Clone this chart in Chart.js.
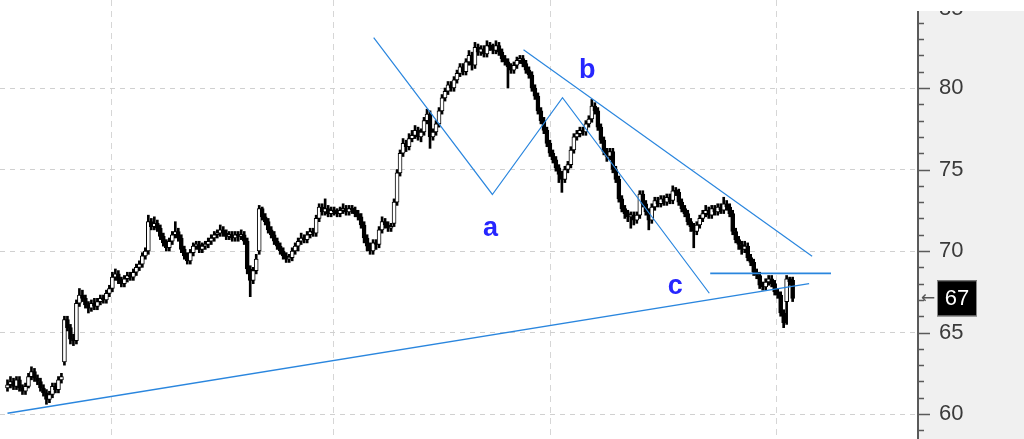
<!DOCTYPE html>
<html>
<head>
<meta charset="utf-8">
<script src="https://cdn.jsdelivr.net/npm/chart.js@4.4.0/dist/chart.umd.min.js"></script>
<style>
  html, body { margin: 0; padding: 0; background: #fff; }
  #wrap { width: 1024px; height: 439px; }
</style>
</head>
<body>
<div id="wrap"><canvas id="chart"></canvas></div>
<script>
// candles (index = bar number)
const opens = [
  61.6,61.8,62.0,61.7,62.1,61.6,61.4,61.7,62.3,62.6,
  62.2,62.0,61.6,61.3,60.9,61.2,61.7,61.5,62.1,63.2,
  65.8,65.3,64.6,64.5,66.8,67.3,67.1,66.7,66.5,66.8,
  66.6,66.9,67.1,67.0,67.4,67.7,68.4,68.6,68.2,68.0,
  68.3,68.5,68.4,68.7,69.0,69.2,69.7,70.0,71.8,71.5,
  71.7,71.4,70.9,70.5,70.2,70.6,71.0,71.2,70.8,70.1,
  69.7,69.4,69.9,70.3,70.4,70.1,70.3,70.4,70.6,70.8,
  71.0,71.1,71.3,71.1,70.9,71.0,70.8,71.0,70.9,71.0,
  70.6,68.9,68.2,68.8,70.0,72.6,72.1,71.8,71.3,71.0,
  70.6,70.3,70.0,69.7,69.5,69.6,70.0,70.3,70.6,70.8,
  70.7,71.0,71.2,71.1,72.0,72.7,72.4,72.6,72.3,72.5,
  72.4,72.3,72.5,72.6,72.4,72.6,72.5,72.3,72.1,71.6,
  70.8,70.3,70.0,70.5,70.4,71.3,71.8,71.6,71.4,71.7,
  73.0,74.8,76.0,76.6,76.4,76.9,77.1,77.4,77.0,77.3,
  78.0,78.4,77.0,77.3,77.8,78.6,79.4,79.8,80.2,80.0,
  80.5,80.9,81.3,81.0,81.6,82.0,81.4,82.5,82.2,82.4,
  82.1,82.6,82.5,82.3,82.6,82.2,81.8,81.6,81.3,81.1,
  81.4,81.7,81.8,81.5,81.1,80.8,80.0,79.5,78.6,78.0,
  77.4,76.6,76.0,75.6,75.1,74.7,74.4,75.0,75.3,76.2,
  77.0,77.2,77.4,77.3,77.8,78.1,78.9,78.6,77.6,76.8,
  76.1,75.8,76.1,75.0,74.4,73.2,72.6,72.3,72.1,72.2,
  71.9,72.2,73.5,72.9,72.4,71.9,72.7,73.1,72.9,73.2,
  73.0,73.3,73.1,73.7,73.6,73.0,72.6,72.3,71.8,71.5,
  71.2,71.6,72.0,72.3,72.5,72.2,72.6,72.4,72.7,72.5,
  72.9,72.7,72.3,71.2,70.7,70.4,70.1,70.3,69.6,69.3,
  68.7,68.5,67.9,67.8,68.1,68.3,68.0,67.5,67.3,66.2,
  66.9,68.3,68.2
];
const highs = [
  62.1,62.3,62.2,62.3,62.3,61.8,61.9,62.5,62.9,62.8,
  62.4,62.2,61.8,61.5,61.4,61.9,61.9,62.3,62.5,66.0,
  66.0,65.5,64.9,67.0,67.7,67.6,67.3,66.9,67.0,67.1,
  67.1,67.3,67.3,67.6,67.9,68.7,68.9,68.8,68.4,68.5,
  68.7,68.7,68.9,69.2,69.4,69.9,70.2,72.2,72.0,72.1,
  71.9,71.6,71.1,70.7,70.8,71.2,71.8,71.4,71.0,70.3,
  69.9,70.1,70.5,70.6,70.6,70.5,70.6,70.8,71.0,71.2,
  71.3,71.6,71.5,71.3,71.2,71.2,71.2,71.2,71.3,71.2,
  70.8,69.1,69.0,69.8,72.8,72.7,72.3,72.0,71.5,71.2,
  70.8,70.5,70.2,69.9,69.8,70.2,70.5,70.8,71.1,71.0,
  71.2,71.4,71.4,72.2,72.9,72.9,73.2,72.8,72.7,72.7,
  72.6,72.7,72.9,72.8,72.8,72.8,72.7,72.5,72.3,71.8,
  71.0,70.5,70.7,70.7,71.5,72.1,72.0,71.8,71.7,73.2,
  75.0,76.2,76.9,76.8,77.2,77.4,77.7,77.6,77.5,78.2,
  78.7,78.6,77.5,78.0,78.8,79.6,80.0,80.4,80.4,80.7,
  81.1,81.5,81.5,81.8,82.3,82.2,82.8,82.7,82.6,82.6,
  82.9,82.8,82.7,82.9,82.8,82.4,82.0,81.8,81.5,81.6,
  81.9,82.0,82.0,81.7,81.3,81.0,80.2,79.7,78.8,78.2,
  77.6,76.8,76.2,75.8,75.3,74.9,75.2,75.5,76.4,77.2,
  77.4,77.6,77.6,78.0,78.3,79.3,79.1,78.8,77.8,77.0,
  76.3,76.3,76.3,75.2,74.6,73.4,72.8,72.5,72.4,72.4,
  72.4,73.7,73.7,73.1,72.6,72.9,73.3,73.3,73.4,73.4,
  73.5,73.5,74.0,73.9,73.8,73.2,72.8,72.5,72.0,71.7,
  71.8,72.2,72.5,72.8,72.7,72.8,72.8,72.9,72.9,73.3,
  73.1,72.9,72.5,71.4,70.9,70.6,70.6,70.5,69.8,69.5,
  68.9,68.7,68.1,68.3,68.5,68.5,68.2,67.7,67.5,66.4,
  68.5,68.4,68.4
];
const lows = [
  61.4,61.6,61.5,61.5,61.4,61.2,61.2,61.6,62.1,62.0,
  61.8,61.4,61.1,60.6,60.7,61.0,61.3,61.3,61.9,63.0,
  65.1,64.3,64.2,64.3,66.6,66.9,66.5,66.2,66.3,66.4,
  66.4,66.7,66.8,66.8,67.2,67.5,68.2,68.0,67.8,67.8,
  68.1,68.2,68.2,68.5,68.8,69.0,69.5,69.8,71.3,71.3,
  71.2,70.7,70.3,70.0,70.0,70.4,70.8,70.6,69.9,69.5,
  69.2,69.2,69.7,70.1,69.9,69.9,70.1,70.2,70.4,70.6,
  70.8,70.9,70.9,70.7,70.7,70.6,70.6,70.6,70.7,70.4,
  68.6,67.2,68.0,68.6,69.8,71.9,71.6,71.1,70.8,70.4,
  70.1,69.8,69.5,69.3,69.3,69.4,69.8,70.0,70.4,70.5,
  70.5,70.8,70.9,70.9,71.8,72.2,72.2,72.1,72.1,72.2,
  72.1,72.1,72.3,72.2,72.2,72.3,72.1,71.9,71.4,70.5,
  70.0,69.8,69.8,70.1,70.2,71.1,71.4,71.2,71.2,71.5,
  72.8,74.6,75.8,76.1,76.2,76.7,76.9,76.8,76.7,77.1,
  77.8,76.3,76.8,77.1,77.6,78.4,79.2,79.6,79.8,79.8,
  80.3,80.7,80.8,80.8,81.4,81.1,81.2,82.0,82.0,81.9,
  81.9,82.3,82.1,82.1,82.0,81.6,81.4,80.0,80.9,80.9,
  81.2,81.5,81.3,80.9,80.6,79.8,79.3,78.4,77.8,77.2,
  76.4,75.8,75.4,74.9,74.2,73.6,74.2,74.8,75.1,76.0,
  76.8,77.0,77.1,77.1,77.6,77.9,78.4,77.4,76.6,75.9,
  75.5,75.6,74.8,74.2,73.0,72.4,72.0,71.8,71.4,71.6,
  71.7,72.0,72.7,72.2,71.3,71.7,72.5,72.7,72.7,72.8,
  72.8,72.9,72.9,73.4,72.8,72.4,72.1,71.6,71.2,70.2,
  71.0,71.4,71.8,72.1,72.0,72.0,72.2,72.2,72.3,72.3,
  72.5,72.1,71.0,70.5,70.1,69.8,69.9,69.4,69.1,68.5,
  68.3,67.7,67.6,67.6,67.9,67.8,67.3,67.1,66.0,65.3,
  65.5,67.9,66.9
];
const closes = [
  61.8,62.0,61.7,62.1,61.6,61.4,61.7,62.3,62.6,62.2,
  62.0,61.6,61.3,60.9,61.2,61.7,61.5,62.1,62.3,65.8,
  65.3,64.6,64.5,66.8,67.3,67.1,66.7,66.5,66.8,66.6,
  66.9,67.1,67.0,67.4,67.7,68.4,68.6,68.2,68.0,68.3,
  68.5,68.4,68.7,69.0,69.2,69.7,70.0,71.8,71.5,71.7,
  71.4,70.9,70.5,70.2,70.6,71.0,71.2,70.8,70.1,69.7,
  69.4,69.9,70.3,70.4,70.1,70.3,70.4,70.6,70.8,71.0,
  71.1,71.3,71.1,70.9,71.0,70.8,71.0,70.9,71.0,70.6,
  68.9,68.2,68.8,69.5,72.6,72.1,71.8,71.3,71.0,70.6,
  70.3,70.0,69.7,69.5,69.6,70.0,70.3,70.6,70.8,70.7,
  71.0,71.2,71.1,72.0,72.7,72.4,72.6,72.3,72.5,72.4,
  72.3,72.5,72.6,72.4,72.6,72.5,72.3,72.1,71.6,70.8,
  70.3,70.0,70.5,70.4,71.3,71.8,71.6,71.4,71.5,73.0,
  74.8,76.0,76.6,76.4,76.9,77.1,77.4,77.0,77.3,78.0,
  78.4,77.0,77.3,77.8,78.6,79.4,79.8,80.2,80.0,80.5,
  80.9,81.3,81.0,81.6,82.0,81.4,82.5,82.2,82.4,82.1,
  82.6,82.5,82.3,82.6,82.2,81.8,81.6,81.3,81.1,81.4,
  81.7,81.8,81.5,81.1,80.8,80.0,79.5,78.6,78.0,77.4,
  76.6,76.0,75.6,75.1,74.7,74.4,75.0,75.3,76.2,77.0,
  77.2,77.4,77.3,77.8,78.1,78.9,78.6,77.6,76.8,76.1,
  75.8,76.1,75.0,74.4,73.2,72.6,72.3,72.1,72.2,71.9,
  72.2,73.5,72.9,72.4,71.9,72.7,73.1,72.9,73.2,73.0,
  73.3,73.1,73.7,73.6,73.0,72.6,72.3,71.8,71.5,71.2,
  71.6,72.0,72.3,72.5,72.2,72.6,72.4,72.7,72.5,72.9,
  72.7,72.3,71.2,70.7,70.4,70.1,70.3,69.6,69.3,68.7,
  68.5,67.9,67.8,68.1,68.3,68.0,67.5,67.3,66.2,65.6,
  68.3,68.1,67.1
];

// drawn lines (bar index, price)
const supportX = [0, 267.5];
const supportY = [60.05, 68.0];
const zigzagX = [122.2, 161.8, 185.2, 234.2];
const zigzagY = [83.09, 73.47, 79.41, 67.41];
const upperX = [172.2, 268.5];
const upperY = [82.35, 69.68];
const flatX = [234.5, 274.8];
const flatY = [68.63, 68.63];

// wave labels
const waveText = ['a', 'b', 'c'];
const waveX = [161.2, 193.5, 222.8];
const waveY = [71.4, 81.1, 67.8];

// vertical grid (bar index) and price range
const gridX = [34.8, 108.8, 181.2, 256.5];
const yMin = 58.47;
const yMax = 85.4;

const BLUE = '#2a86de';

const wicks = lows.map((l, i) => ({ x: i, y: [l, highs[i]] }));
const bodies = opens.map((o, i) => ({ x: i, y: [Math.min(o, closes[i]), Math.max(o, closes[i])] }));
const pts = (xs, ys) => xs.map((x, i) => ({ x: x, y: ys[i] }));

const axisPanel = {
  id: 'axisPanel',
  beforeDraw(chart) {
    const { ctx, chartArea } = chart;
    ctx.save();
    ctx.fillStyle = '#f0f0f0';
    ctx.fillRect(chartArea.right, 12, chart.width - chartArea.right, chart.height - 12);
    ctx.restore();
  },
  afterDraw(chart) {
    const { ctx, chartArea } = chart;
    const ys = chart.scales.y;
    const xs = chart.scales.x;
    const ax = chartArea.right;
    ctx.save();
    // header band above the price panel, with the clipped 85 label
    ctx.fillStyle = '#f0f0f0';
    ctx.fillRect(ax, 0, chart.width - ax, 12);
    ctx.fillStyle = '#3a3a3a';
    ctx.font = '22px "Liberation Sans", Arial, sans-serif';
    ctx.textAlign = 'left';
    ctx.textBaseline = 'middle';
    ctx.fillText('85', ax + 22, ys.getPixelForValue(85) + 2);
    ctx.fillStyle = '#fff';
    ctx.fillRect(ax, 0, chart.width - ax, 11);

    // axis line + ticks
    ctx.strokeStyle = '#5a5a5a';
    ctx.lineWidth = 2;
    ctx.beginPath();
    ctx.moveTo(ax + 1, 11);
    ctx.lineTo(ax + 1, chart.height);
    ctx.stroke();
    ctx.lineWidth = 1.5;
    for (let v = Math.ceil(ys.min); v <= ys.max; v++) {
      const py = Math.round(ys.getPixelForValue(v)) + 0.5;
      if (py < 13) continue;
      const len = v % 5 === 0 ? 13 : 7;
      ctx.beginPath();
      ctx.moveTo(ax, py);
      ctx.lineTo(ax + len, py);
      ctx.stroke();
    }

    // last price tag
    const last = closes[closes.length - 1];
    const py = ys.getPixelForValue(last);
    ctx.fillStyle = '#000';
    ctx.fillRect(ax + 20, py - 18, 40, 36);
    ctx.strokeStyle = '#888';
    ctx.lineWidth = 1;
    ctx.strokeRect(ax + 20.5, py - 17.5, 39, 35);
    ctx.fillStyle = '#fff';
    ctx.font = '22px "Liberation Sans", Arial, sans-serif';
    ctx.textAlign = 'center';
    ctx.fillText(String(Math.round(last)), ax + 40, py + 1);
    ctx.fillStyle = '#555';
    ctx.font = '17px "DejaVu Sans", sans-serif';
    ctx.fillText('\u2190', ax + 11, py);

    // wave labels
    ctx.fillStyle = '#2626ff';
    ctx.font = 'bold 27px "Liberation Sans", Arial, sans-serif';
    waveText.forEach((t, i) => {
      ctx.fillText(t, xs.getPixelForValue(waveX[i]), ys.getPixelForValue(waveY[i]));
    });
    ctx.restore();
  }
};

new Chart(document.getElementById('chart'), {
  data: {
    datasets: [
      { type: 'line', data: pts(supportX, supportY), borderColor: BLUE, borderWidth: 1.4, pointRadius: 0, order: 0 },
      { type: 'line', data: pts(zigzagX, zigzagY), borderColor: BLUE, borderWidth: 1.2, pointRadius: 0, order: 0 },
      { type: 'line', data: pts(upperX, upperY), borderColor: BLUE, borderWidth: 1.2, pointRadius: 0, order: 0 },
      { type: 'line', data: pts(flatX, flatY), borderColor: BLUE, borderWidth: 1.8, pointRadius: 0, order: 0 },
      {
        type: 'bar', data: bodies, order: 1, grouped: false,
        barThickness: 4, minBarLength: 2, borderWidth: 1, borderSkipped: false,
        borderColor: '#000',
        backgroundColor: c => (closes[c.dataIndex] >= opens[c.dataIndex] ? '#fff' : '#000')
      },
      { type: 'bar', data: wicks, order: 2, grouped: false, barThickness: 2, backgroundColor: '#000' }
    ]
  },
  options: {
    responsive: true,
    maintainAspectRatio: false,
    animation: false,
    layout: { padding: 0 },
    plugins: { legend: { display: false }, tooltip: { enabled: false } },
    scales: {
      x: {
        type: 'linear',
        min: -2.5,
        max: 303.5,
        offset: false,
        afterBuildTicks: s => { s.ticks = gridX.map(v => ({ value: v })); },
        afterFit: s => { s.height = 0; s.paddingLeft = 0; s.paddingRight = 0; },
        ticks: { display: false },
        grid: { color: '#d6d6d6', drawTicks: false, offset: false },
        border: { display: false, dash: [6, 5] }
      },
      y: {
        position: 'right',
        min: yMin,
        max: yMax,
        afterFit: s => { s.width = 107; s.paddingTop = 0; s.paddingBottom = 0; },
        ticks: {
          stepSize: 1,
          autoSkip: false,
          padding: 22,
          color: '#3a3a3a',
          font: { family: '"Liberation Sans", Arial, sans-serif', size: 22 },
          callback: v => (v % 5 === 0 && v < 85 ? String(v) : '')
        },
        grid: {
          drawTicks: false,
          color: c => (c.tick && c.tick.value % 5 === 0 && c.tick.value < 85 ? '#d0d0d0' : 'rgba(0,0,0,0)')
        },
        border: { display: false, dash: [5, 5] }
      }
    }
  },
  plugins: [axisPanel]
});
</script>
</body>
</html>
